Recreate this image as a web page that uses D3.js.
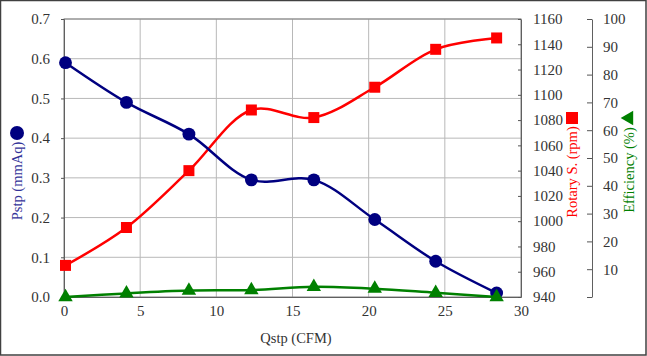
<!DOCTYPE html>
<html><head><meta charset="utf-8">
<script src="https://cdn.jsdelivr.net/npm/d3@7"></script>
<style>
html,body{margin:0;padding:0;background:#fff;}
svg text{font-family:'Times New Roman','Liberation Serif','DejaVu Serif',serif !important;}
</style></head>
<body><svg id="c" width="647" height="356"></svg>
<script>
const qstp = [0.1, 4.1, 8.2, 12.3, 16.4, 20.4, 24.4, 28.4];
const pstp = [0.59, 0.49, 0.41, 0.295, 0.295, 0.195, 0.09, 0.01];
const rpm = [965, 995, 1040, 1088, 1082, 1106, 1136, 1145];
const eff = [0, 1.3, 2.3, 2.5, 3.7, 3.0, 1.5, 0];
const xTicks = [0, 5, 10, 15, 20, 25, 30];
const pTicks = [0, 0.1, 0.2, 0.3, 0.4, 0.5, 0.6, 0.7];
const rTicks = [940, 960, 980, 1000, 1020, 1040, 1060, 1080, 1100, 1120, 1140, 1160];
const eTicks = [0, 10, 20, 30, 40, 50, 60, 70, 80, 90, 100];

const svg = d3.select("#c");
const L = 64, R = 521, T = 19, B = 297;
const x = d3.scaleLinear().domain([0, 30]).range([L, R]);
const yP = d3.scaleLinear().domain([0, 0.7]).range([B, T]);
const yR = d3.scaleLinear().domain([940, 1160]).range([B, T]);
const yE = d3.scaleLinear().domain([0, 100]).range([B, T]);

svg.append("rect").attr("x", 0.5).attr("y", 0.5).attr("width", 645.5).attr("height", 354.5)
  .attr("fill", "#fff").attr("stroke", "#404040").attr("stroke-width", 1.5);

// gridlines
const g = svg.append("g");
g.selectAll(".hg").data(pTicks.slice(1)).join("line")
  .attr("x1", L).attr("x2", R).attr("y1", d => yP(d)).attr("y2", d => yP(d))
  .attr("stroke", "#b8b8b8").attr("stroke-width", 1);
g.selectAll(".vg").data(xTicks.slice(1, -1)).join("line")
  .attr("y1", T).attr("y2", B).attr("x1", d => x(d)).attr("x2", d => x(d))
  .attr("stroke", "#b8b8b8").attr("stroke-width", 1);
svg.append("rect").attr("x", L).attr("y", T).attr("width", R - L).attr("height", B - T)
  .attr("fill", "none").attr("stroke", "#808080").attr("stroke-width", 1);

// axes
const ax = svg.append("g").attr("transform", `translate(0,${B})`)
  .call(d3.axisBottom(x).tickValues(xTicks).tickSize(0).tickPadding(8).tickFormat(d3.format("d")));
const ay = svg.append("g").attr("transform", `translate(${L},0)`)
  .call(d3.axisLeft(yP).tickValues(pTicks).tickSize(3).tickPadding(11).tickFormat(d3.format(".1f")));
const ar = svg.append("g").attr("transform", `translate(${R},0)`)
  .call(d3.axisRight(yR).tickValues(rTicks).tickSizeInner(-3).tickSizeOuter(0).tickPadding(12).tickFormat(d3.format("d")));
const ae = svg.append("g").attr("transform", `translate(592,0)`)
  .call(d3.axisRight(yE).tickValues(eTicks).tickSizeInner(-5).tickSizeOuter(0).tickPadding(11)
    .tickFormat(d => d === 0 ? "" : d));
[ax, ay, ar, ae].forEach(a => {
  a.attr("font-family", null);
  a.selectAll("text").attr("font-size", 15).attr("fill", "#333");
  a.selectAll("line").attr("stroke", "#555");
  a.select(".domain").attr("stroke", "#606060");
});

// lines
function series(data, yS, color, shape, size) {
  const pts = qstp.map((q, i) => [x(q), yS(data[i])]);
  svg.append("path").attr("d", d3.line().curve(d3.curveCatmullRom.alpha(0.5))(pts))
    .attr("fill", "none").attr("stroke", color).attr("stroke-width", 2.5);
  const sym = d3.symbol().type(shape).size(size);
  svg.append("g").selectAll("path").data(pts).join("path")
    .attr("transform", d => `translate(${d[0]},${d[1]})`).attr("d", sym).attr("fill", color);
}
series(rpm, yR, "#ff0000", d3.symbolSquare, 121);
series(pstp, yP, "#000080", d3.symbolCircle, 130);
series(eff, yE, "#008000", d3.symbolTriangle, 90);

// titles
svg.append("text").attr("x", 296).attr("y", 343).attr("text-anchor", "middle")
  .attr("font-size", 14.5).attr("fill", "#333").text("Qstp (CFM)");
svg.append("text").attr("transform", "translate(22,181) rotate(-90)").attr("text-anchor", "middle")
  .attr("font-size", 14.5).attr("fill", "#333399").text("Pstp (mmAq)");
svg.append("circle").attr("cx", 17).attr("cy", 133).attr("r", 7).attr("fill", "#000080");
svg.append("text").attr("transform", "translate(577,172) rotate(-90)").attr("text-anchor", "middle")
  .attr("font-size", 14.5).attr("fill", "#ff0000").text("Rotary S. (rpm)");
svg.append("rect").attr("x", 566).attr("y", 112).attr("width", 12).attr("height", 12).attr("fill", "#ff0000");
svg.append("text").attr("transform", "translate(634,170) rotate(-90)").attr("text-anchor", "middle")
  .attr("font-size", 14.5).attr("fill", "#008000").text("Efficiency (%)");
svg.append("path").attr("transform", "translate(629,118) rotate(-90)")
  .attr("d", d3.symbol().type(d3.symbolTriangle).size(90)).attr("fill", "#008000");
</script></body></html>
